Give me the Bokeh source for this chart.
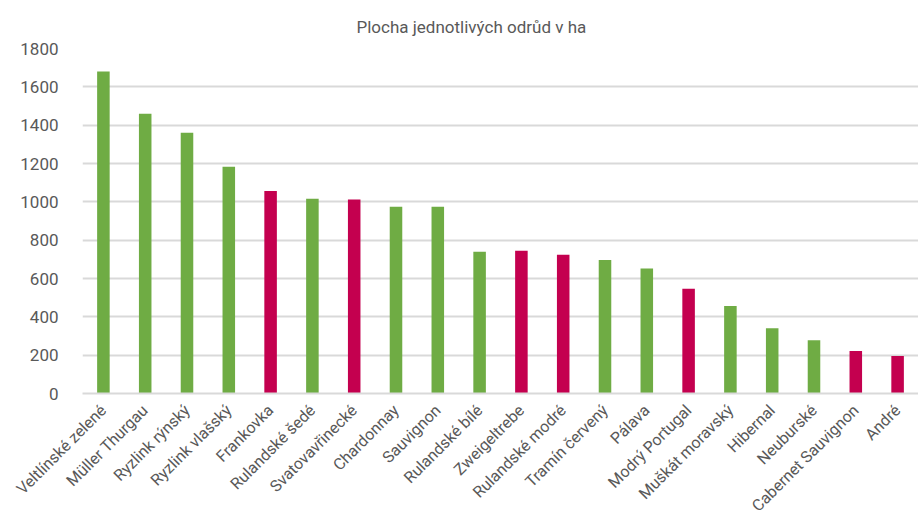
from bokeh.plotting import figure
from bokeh.models import ColumnDataSource, FactorRange, Range1d, SingleIntervalTicker
from bokeh.transform import factor_cmap
from bokeh.embed import file_html
from bokeh.resources import INLINE

varieties = ["Veltlínské zelené", "Müller Thurgau", "Ryzlink rýnský", "Ryzlink vlašský",
             "Frankovka", "Rulandské šedé", "Svatovavřinecké", "Chardonnay", "Sauvignon",
             "Rulandské bílé", "Zweigeltrebe", "Rulandské modré", "Tramín červený", "Pálava",
             "Modrý Portugal", "Muškát moravský", "Hibernal", "Neuburské",
             "Cabernet Sauvignon", "André"]
area_ha = [1680, 1460, 1360, 1183, 1057, 1016, 1012, 974, 974,
           740, 745, 724, 697, 652, 547, 456, 340, 278, 222, 196]
wine_type = ["bílé", "bílé", "bílé", "bílé", "modré", "bílé", "modré", "bílé", "bílé",
             "bílé", "modré", "modré", "bílé", "bílé", "modré", "bílé", "bílé", "bílé",
             "modré", "modré"]
type_factors = ["bílé", "modré"]
type_colors = ["#6FAC44", "#C4004F"]

FONT = "Roboto"
TEXT = "#595959"
GRID = "#D9D9D9"

src = ColumnDataSource(dict(x=varieties, top=area_ha, typ=wine_type))

p = figure(width=918, height=528, x_range=FactorRange(*varieties),
           y_range=Range1d(0, 1800), output_backend="svg", toolbar_location=None,
           title="Plocha jednotlivých odrůd v ha",
           min_border_left=82, min_border_right=0, min_border_top=48, min_border_bottom=135)
p.x_range.range_padding = 0
p.vbar(x="x", top="top", width=0.3, source=src, line_color=None,
       fill_color=factor_cmap("typ", palette=type_colors, factors=type_factors))

p.outline_line_color = None
p.background_fill_color = "white"
p.border_fill_color = "white"

p.title.text_font = FONT
p.title.text_font_size = "17px"
p.title.text_font_style = "normal"
p.title.text_color = TEXT
p.title.align = "left"
p.title.offset = 274
p.title.vertical_align = "top"
p.title.standoff = 20

p.yaxis.ticker = SingleIntervalTicker(interval=200)
p.yaxis.axis_line_color = None
p.yaxis.major_tick_line_color = None
p.yaxis.minor_tick_line_color = None
p.yaxis.major_tick_out = 0
p.yaxis.major_tick_in = 0
p.yaxis.major_label_text_font = FONT
p.yaxis.major_label_text_font_size = "17px"
p.yaxis.major_label_text_color = TEXT
p.yaxis.major_label_standoff = 20

p.xaxis.axis_line_color = GRID
p.xaxis.axis_line_width = 2
p.xaxis.major_tick_line_color = None
p.xaxis.minor_tick_line_color = None
p.xaxis.major_tick_out = 0
p.xaxis.major_tick_in = 0
p.xaxis.major_label_orientation = 0.785
p.xaxis.major_label_text_font = FONT
p.xaxis.major_label_text_font_size = "16px"
p.xaxis.major_label_text_color = TEXT
p.xaxis.major_label_standoff = 14

p.xgrid.grid_line_color = None
p.ygrid.grid_line_color = GRID
p.ygrid.grid_line_width = 2

open("out.html", "w").write(file_html(p, INLINE))
